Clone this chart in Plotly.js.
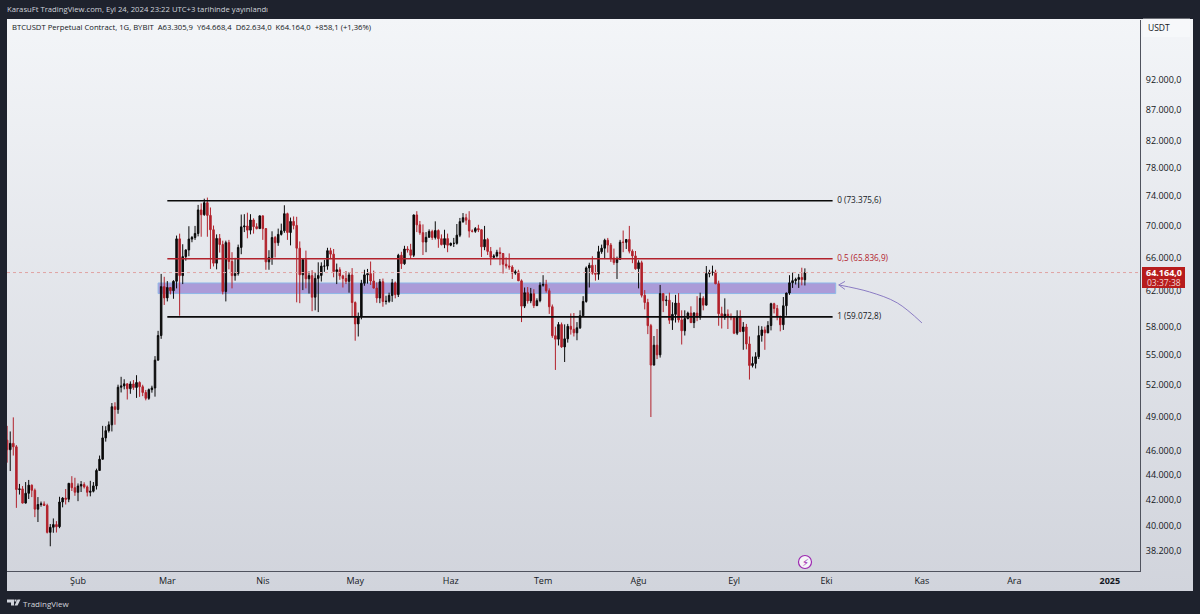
<!DOCTYPE html>
<html><head><meta charset="utf-8">
<script src="https://cdn.plot.ly/plotly-3.0.0.min.js"></script>
<style>
html,body{margin:0;padding:0;background:#1e222d;width:1200px;height:614px;overflow:hidden}
#bg{position:absolute;left:7px;top:19px;width:1186px;height:572px;background:linear-gradient(180deg,#f3f5f8 0%,#d1d4dc 100%)}
#chart{position:absolute;left:0;top:0;width:1200px;height:614px}
</style></head><body><div id="bg"></div><div id="chart"></div>
<script>
const dates=[
"2024-01-09","2024-01-10","2024-01-11","2024-01-12","2024-01-13","2024-01-14","2024-01-15","2024-01-16","2024-01-17","2024-01-18","2024-01-19","2024-01-20","2024-01-21","2024-01-22","2024-01-23","2024-01-24","2024-01-25","2024-01-26","2024-01-27","2024-01-28","2024-01-29","2024-01-30","2024-01-31",
"2024-02-01","2024-02-02","2024-02-03","2024-02-04","2024-02-05","2024-02-06","2024-02-07","2024-02-08","2024-02-09","2024-02-10","2024-02-11","2024-02-12","2024-02-13","2024-02-14","2024-02-15","2024-02-16","2024-02-17","2024-02-18","2024-02-19","2024-02-20","2024-02-21","2024-02-22","2024-02-23","2024-02-24","2024-02-25","2024-02-26","2024-02-27","2024-02-28","2024-02-29",
"2024-03-01","2024-03-02","2024-03-03","2024-03-04","2024-03-05","2024-03-06","2024-03-07","2024-03-08","2024-03-09","2024-03-10","2024-03-11","2024-03-12","2024-03-13","2024-03-14","2024-03-15","2024-03-16","2024-03-17","2024-03-18","2024-03-19","2024-03-20","2024-03-21","2024-03-22","2024-03-23","2024-03-24","2024-03-25","2024-03-26","2024-03-27","2024-03-28","2024-03-29","2024-03-30","2024-03-31",
"2024-04-01","2024-04-02","2024-04-03","2024-04-04","2024-04-05","2024-04-06","2024-04-07","2024-04-08","2024-04-09","2024-04-10","2024-04-11","2024-04-12","2024-04-13","2024-04-14","2024-04-15","2024-04-16","2024-04-17","2024-04-18","2024-04-19","2024-04-20","2024-04-21","2024-04-22","2024-04-23","2024-04-24","2024-04-25","2024-04-26","2024-04-27","2024-04-28","2024-04-29","2024-04-30",
"2024-05-01","2024-05-02","2024-05-03","2024-05-04","2024-05-05","2024-05-06","2024-05-07","2024-05-08","2024-05-09","2024-05-10","2024-05-11","2024-05-12","2024-05-13","2024-05-14","2024-05-15","2024-05-16","2024-05-17","2024-05-18","2024-05-19","2024-05-20","2024-05-21","2024-05-22","2024-05-23","2024-05-24","2024-05-25","2024-05-26","2024-05-27","2024-05-28","2024-05-29","2024-05-30","2024-05-31",
"2024-06-01","2024-06-02","2024-06-03","2024-06-04","2024-06-05","2024-06-06","2024-06-07","2024-06-08","2024-06-09","2024-06-10","2024-06-11","2024-06-12","2024-06-13","2024-06-14","2024-06-15","2024-06-16","2024-06-17","2024-06-18","2024-06-19","2024-06-20","2024-06-21","2024-06-22","2024-06-23","2024-06-24","2024-06-25","2024-06-26","2024-06-27","2024-06-28","2024-06-29","2024-06-30",
"2024-07-01","2024-07-02","2024-07-03","2024-07-04","2024-07-05","2024-07-06","2024-07-07","2024-07-08","2024-07-09","2024-07-10","2024-07-11","2024-07-12","2024-07-13","2024-07-14","2024-07-15","2024-07-16","2024-07-17","2024-07-18","2024-07-19","2024-07-20","2024-07-21","2024-07-22","2024-07-23","2024-07-24","2024-07-25","2024-07-26","2024-07-27","2024-07-28","2024-07-29","2024-07-30","2024-07-31",
"2024-08-01","2024-08-02","2024-08-03","2024-08-04","2024-08-05","2024-08-06","2024-08-07","2024-08-08","2024-08-09","2024-08-10","2024-08-11","2024-08-12","2024-08-13","2024-08-14","2024-08-15","2024-08-16","2024-08-17","2024-08-18","2024-08-19","2024-08-20","2024-08-21","2024-08-22","2024-08-23","2024-08-24","2024-08-25","2024-08-26","2024-08-27","2024-08-28","2024-08-29","2024-08-30","2024-08-31",
"2024-09-01","2024-09-02","2024-09-03","2024-09-04","2024-09-05","2024-09-06","2024-09-07","2024-09-08","2024-09-09","2024-09-10","2024-09-11","2024-09-12","2024-09-13","2024-09-14","2024-09-15","2024-09-16","2024-09-17","2024-09-18","2024-09-19","2024-09-20","2024-09-21","2024-09-22","2024-09-23","2024-09-24"];
const opens=[
46930,46100,46650,46350,42800,42850,41730,42500,43150,42740,41260,41620,41665,41545,39510,39890,40090,39930,41815,42120,42030,43300,42945,
42580,43080,43200,43010,42580,42660,43090,44350,45290,47130,47770,48290,49950,49700,51800,51930,52130,51660,52120,51780,52260,51850,51300,50740,51570,51730,54490,57050,62500,
61200,62400,62030,63130,68330,63800,66100,66930,68300,68500,69020,72120,71480,73100,71390,69500,65300,68390,67610,61940,67850,65500,63800,64040,67240,69880,69990,69450,70780,69900,69650,
71330,69650,65460,65980,68500,67840,68900,69360,71620,69140,70590,70060,67150,63900,65740,63420,63800,61280,63470,63820,64940,64940,66840,66410,64280,64500,63770,63460,63120,63870,
60670,58300,59120,62890,63890,64030,63160,62330,61190,63070,60790,60820,61480,62940,61580,66270,65230,67050,66940,66270,71450,70140,69120,67930,68530,69280,68500,69400,68350,67600,68360,
67530,67760,67760,68800,70560,71080,70760,69340,69300,69650,69500,67320,68240,66750,66010,66190,66640,66490,65170,64960,64830,64100,64250,63180,60270,61800,60860,61680,60320,60890,
62670,62760,62030,60200,57030,56660,58230,55850,56700,58040,57720,57340,57880,59200,60790,64720,65040,64090,63970,66710,67150,68160,67540,65930,65370,65780,67910,67890,68250,66780,66190,
64620,65350,61500,60680,58110,53990,56030,55030,61700,60880,60940,58710,59350,60610,58740,57560,58880,59490,58440,59490,59030,61160,60380,64040,64160,64220,62830,59420,59030,59370,59120,
58970,57300,59130,57480,57970,56160,53950,54150,54840,57050,57650,57340,58130,60540,60000,59130,58210,60310,61760,62950,63200,63350,63580,63305.9];
const highs=[
48200,47700,48970,46500,43250,43080,43400,43570,43200,42880,42200,41850,41860,41680,40130,40550,40350,42225,42200,42840,43300,43880,43750,
43290,43480,43380,43120,43500,43400,44500,45600,48200,48170,48600,50300,50370,52050,52820,52580,52180,52370,52500,52980,52380,52040,51540,51680,51950,54900,57550,64000,63660,
63150,62400,63250,68750,69000,67650,67000,69960,68700,70000,72800,73000,73650,73800,72450,70050,68900,68950,68100,68100,68200,66650,65950,67600,71500,71550,71750,71550,71000,70350,71350,
71350,69700,66900,69300,68700,69650,70300,72750,71750,71100,71250,71200,68000,65800,66850,64300,64450,64100,65400,65400,65700,67200,67200,67050,65250,64800,63900,64350,64200,64700,
60800,59550,63300,64500,64600,65500,64400,63000,63400,63450,61450,61800,63400,63100,66450,66700,67450,67400,67700,71500,71950,70650,70200,69200,69550,69500,70600,69550,68900,69500,69000,
67850,68450,70250,71050,71700,71600,71950,69550,69850,70150,69550,70000,68450,67300,66400,66950,67250,66550,66000,66500,65050,64500,64500,63350,62400,62450,62350,62200,61150,63000,
63850,63300,62300,60450,58000,58500,58450,58250,58300,59450,59500,58500,59800,61400,64900,65350,66150,65100,67450,67600,68350,68450,67800,67100,66100,68200,69400,68300,70000,67000,66800,
65650,65600,62100,61100,58300,57000,57750,62700,61750,61450,61800,60700,61550,61750,59800,59800,59650,60250,59600,61400,61800,61400,64950,64500,65000,64500,63200,60200,61150,59900,59450,
59050,59800,59800,58500,58300,56950,54850,55300,58100,58050,58000,58600,60650,60650,60400,59200,61300,61800,63850,64150,63550,64000,64750,64668.4];
const lows=[
45000,44300,45600,41360,42400,41700,41700,42050,42200,40650,40280,41450,41500,39430,38500,39480,39500,39820,41400,41620,41800,42680,42300,
41880,42600,42880,42250,42260,42570,42800,44330,45250,46800,47600,47700,48300,49300,51300,51600,50630,51170,51550,50780,50880,50950,50550,50600,51280,50900,54450,56700,60400,
60800,61600,61100,62300,59200,62800,65600,66150,67900,68200,68650,68600,71340,68600,64600,64900,64550,66600,61600,60800,64550,62300,63200,63800,66400,69200,68400,68900,69000,69550,69600,
68200,64500,64500,65100,66000,67450,68750,69100,68200,67500,69550,60700,60600,62100,62300,61700,59700,59800,59600,63100,64250,64500,65800,63600,62800,63300,62400,62800,61800,59100,
56500,56950,58800,62600,62850,62700,62300,60650,60600,60200,60450,60650,60750,61150,61300,64600,65100,66600,65850,66050,69200,68850,66300,66650,68500,68200,68250,67200,67500,67150,66650,
67400,67300,67600,68550,70400,70150,68500,69150,69100,69200,66050,66900,66300,65050,65900,66000,65050,64050,64650,64500,63400,63900,63200,58500,60050,60550,60600,60050,60300,60700,
62500,61800,59400,56800,53500,56000,55750,54300,56300,57150,56950,56550,57750,59200,60650,62400,63900,63200,63300,66450,65800,66600,65450,65100,63400,65700,66650,67050,66500,65300,64500,
62300,61250,59900,57200,49000,53950,54600,54750,59600,60300,58300,57650,58450,58450,56100,57050,58800,58400,57850,58600,58750,59800,60350,63600,63800,62800,58100,57800,58750,57750,58700,
57200,57100,57400,55550,55600,52550,53750,53650,54600,56400,55550,57300,57600,59450,58700,57500,57650,59200,61550,62350,62750,62350,62650,62634];
const closes=[
46100,46650,46350,42800,42850,41730,42500,43150,42740,41260,41620,41665,41545,39510,39890,40090,39930,41815,42120,42030,43300,42945,42580,
43080,43200,43010,42580,42660,43090,44350,45290,47130,47770,48290,49950,49700,51800,51930,52130,51660,52120,51780,52260,51850,51300,50740,51570,51730,54490,57050,62500,61200,
62400,62030,63130,68330,63800,66100,66930,68300,68500,69020,72120,71480,73100,71390,69500,65300,68390,67610,61940,67850,65500,63800,64040,67240,69880,69990,69450,70780,69900,69650,71330,
69650,65460,65980,68500,67840,68900,69360,71620,69140,70590,70060,67150,63900,65740,63420,63800,61280,63470,63820,64940,64940,66840,66410,64280,64500,63770,63460,63120,63870,60670,
58300,59120,62890,63890,64030,63160,62330,61190,63070,60790,60820,61480,62940,61580,66270,65230,67050,66940,66270,71450,70140,69120,67930,68530,69280,68500,69400,68350,67600,68360,67530,
67760,67760,68800,70560,71080,70760,69340,69300,69650,69500,67320,68240,66750,66010,66190,66640,66490,65170,64960,64830,64100,64250,63180,60270,61800,60860,61680,60320,60890,62670,
62760,62030,60200,57030,56660,58230,55850,56700,58040,57720,57340,57880,59200,60790,64720,65040,64090,63970,66710,67150,68160,67540,65930,65370,65780,67910,67890,68250,66780,66190,64620,
65350,61500,60680,58110,53990,56030,55030,61700,60880,60940,58710,59350,60610,58740,57560,58880,59490,58440,59490,59030,61160,60380,64040,64160,64220,62830,59420,59030,59370,59120,58970,
57300,59130,57480,57970,56160,53950,54150,54840,57050,57650,57340,58130,60540,60000,59130,58210,60310,61760,62950,63200,63350,63580,63330,64164];

const yTickVals=[92000,87000,82000,78000,74000,70000,66000,62000,58000,55000,52000,49000,46000,44000,42000,40000,38200];
const yTickText=["92.000,0","87.000,0","82.000,0","78.000,0","74.000,0","70.000,0","66.000,0","62.000,0","58.000,0","55.000,0","52.000,0","49.000,0","46.000,0","44.000,0","42.000,0","40.000,0","38.200,0"];
const xTickVals=["2024-02-01","2024-03-01","2024-04-01","2024-05-01","2024-06-01","2024-07-01","2024-08-01","2024-09-01","2024-10-01","2024-11-01","2024-12-01","2025-01-01"];
const xTickText=["Şub","Mar","Nis","May","Haz","Tem","Ağu","Eyl","Eki","Kas","Ara","<b>2025</b>"];

const fibStart="2024-03-01", fibEnd="2024-10-03", fibLabelX="2024-10-04T12:00";
const fib0=73375.6, fib05=65836.9, fib1=59072.8;
const lastPrice=64164;
const xRange=["2024-01-08 22:48","2025-01-10 19:12"];
const bandX=["2024-02-27","2024-10-04"], bandY=[61700,62930];
const arrowX=["2024-11-01","2024-10-24","2024-10-15","2024-10-05"];
const arrowY=[58410,60630,61885,62700];
const headX=["2024-10-07","2024-10-05","2024-10-07"];
const headY=[63110,62700,62180];

const RED="#b2222c", BLACK="#0a0a0a", TXT="#131722", FONT="'Open Sans','Noto Sans',sans-serif";
const px=v=>(v-7)/1133, py=v=>(571-v)/551;

const traces=[
 {type:"scatter",mode:"lines",x:xRange,y:[lastPrice,lastPrice],line:{color:"#e0a3a3",width:1,dash:"dot"},hoverinfo:"skip"},
 {type:"candlestick",x:dates,open:opens,high:highs,low:lows,close:closes,whiskerwidth:0,
  increasing:{line:{color:BLACK,width:1},fillcolor:BLACK},
  decreasing:{line:{color:RED,width:1},fillcolor:RED}},
 {type:"scatter",mode:"lines",x:[fibStart,fibEnd],y:[fib0,fib0],line:{color:BLACK,width:1.6}},
 {type:"scatter",mode:"lines",x:[fibStart,fibEnd],y:[fib05,fib05],line:{color:RED,width:1.6}},
 {type:"scatter",mode:"lines",x:[fibStart,fibEnd],y:[fib1,fib1],line:{color:BLACK,width:1.6}},
 {type:"scatter",mode:"text",x:[fibLabelX,fibLabelX,fibLabelX],y:[fib0,fib05,fib1],
  text:["0 (73.375,6)","0,5 (65.836,9)","1 (59.072,8)"],textposition:"middle right",
  textfont:{family:FONT,size:8.2,color:[TXT,"#b2222c",TXT]}},
 {type:"scatter",mode:"lines",x:arrowX,y:arrowY,line:{color:"#8b7cc4",width:1,shape:"spline"}},
 {type:"scatter",mode:"lines",x:headX,y:headY,line:{color:"#8b7cc4",width:1}}
];
const ann=(text,x,y,o)=>Object.assign({text,xref:"paper",yref:"paper",x:px(x),y:py(y),showarrow:false,xanchor:"left",yanchor:"middle",font:{family:FONT,size:7.7,color:TXT}},o||{});
const layout={
 width:1200,height:614,paper_bgcolor:"rgba(0,0,0,0)",plot_bgcolor:"rgba(0,0,0,0)",showlegend:false,dragmode:false,
 margin:{l:7,r:60,t:20,b:43,pad:0},font:{family:FONT,size:9,color:TXT},
 xaxis:{type:"date",range:xRange,rangeslider:{visible:false},tickmode:"array",tickvals:xTickVals,ticktext:xTickText,
  showgrid:false,zeroline:false,showline:true,linecolor:"#50535e",linewidth:1,ticks:"outside",ticklen:1,tickcolor:"rgba(0,0,0,0)",tickfont:{family:FONT,size:9,color:TXT}},
 yaxis:{type:"log",side:"right",range:[4.5654,5.0120],tickmode:"array",tickvals:yTickVals,ticktext:yTickText,
  showgrid:false,zeroline:false,showline:true,linecolor:"#50535e",linewidth:1,ticks:"outside",ticklen:3,tickcolor:"rgba(0,0,0,0)",tickfont:{family:FONT,size:9,color:TXT}},
 shapes:[
  {type:"rect",layer:"below",xref:"x",yref:"y",x0:bandX[0],x1:bandX[1],y0:bandY[0],y1:bandY[1],fillcolor:"#ab9bd8",line:{color:"#8fb8e8",width:1}},
  {type:"rect",xref:"paper",yref:"paper",x0:px(1143),x1:px(1190),y0:py(37),y1:py(18),fillcolor:"rgba(255,255,255,0.35)",line:{color:"rgba(0,0,0,0)",width:0}},
  {type:"rect",xref:"paper",yref:"paper",x0:px(1142),x1:px(1185),y0:py(288),y1:py(267),fillcolor:"#b71c1c",line:{width:0}},
  {type:"circle",xref:"paper",yref:"paper",x0:px(798.5),x1:px(811.5),y0:py(568.5),y1:py(555.5),fillcolor:"#f5f5f8",line:{color:"#9c27b0",width:1.2}},
  {type:"path",xref:"paper",yref:"paper",fillcolor:"#d1d4dc",line:{width:0},
   path:`M${px(7)},${py(599.5)} H${px(14)} V${py(605.5)} H${px(11)} V${py(602.5)} H${px(7)} Z M${px(14.5)},${py(599.5)} H${px(16.5)} V${py(601.5)} H${px(14.5)} Z M${px(14.5)},${py(605.5)} L${px(17.5)},${py(599.5)} H${px(20.5)} L${px(17.5)},${py(605.5)} Z`}
 ],
 annotations:[
  ann("KarasuFt TradingView.com, Eyl 24, 2024 23:22 UTC+3 tarihinde yayınlandı",4.5,9,{font:{family:FONT,size:7.7,color:"#d1d4dc"}}),
  ann("BTCUSDT Perpetual Contract, 1G, BYBIT  A63.305,9  Y64.668,4  D62.634,0  K64.164,0  +858,1 (+1,36%)",10,27),
  ann("USDT",1146,28,{font:{family:FONT,size:8.5,color:TXT}}),
  ann("<b>64.164,0</b>",1163.5,272.5,{xanchor:"center",font:{family:FONT,size:9,color:"#ffffff"}}),
  ann("03:37:38",1163.5,282.5,{xanchor:"center",font:{family:FONT,size:8.5,color:"#f4d6d6"}}),
  ann("⚡",805,562,{xanchor:"center",font:{family:"DejaVu Sans",size:10,color:"#9c27b0"}}),
  ann("TradingView",21,603,{font:{family:FONT,size:8,color:"#d1d4dc"}})
 ]
};
Plotly.newPlot("chart",traces,layout,{staticPlot:true,displayModeBar:false});
</script></body></html>
